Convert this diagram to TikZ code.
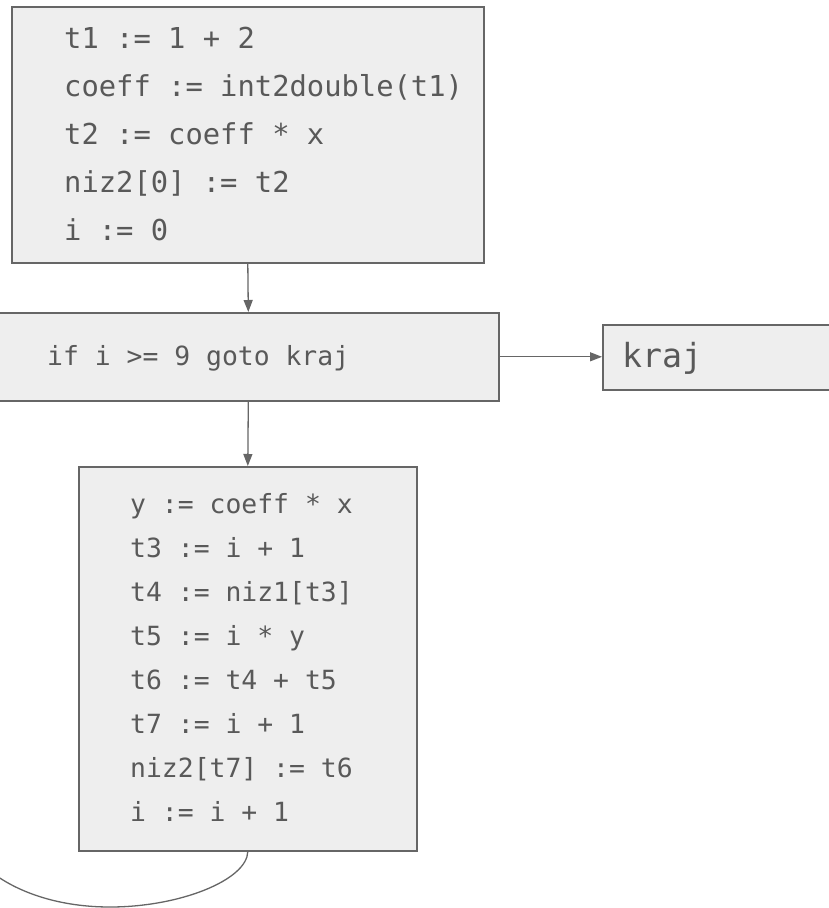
\documentclass[tikz,border=0pt]{standalone}
\usepackage{fontspec}
\usetikzlibrary{arrows.meta}
\newfontfamily\codefont{DejaVu Sans Mono}
\definecolor{boxfill}{HTML}{EEEEEE}
\definecolor{boxline}{HTML}{666666}
\definecolor{codetext}{HTML}{595959}
\begin{document}
\begin{tikzpicture}[x=1pt,y=-1pt,
  blk/.style={draw=boxline, fill=boxfill, line width=1.6pt, inner sep=0pt, anchor=north west},
  codeline/.style={text=codetext, inner sep=0pt, anchor=base west},
  big/.style={codeline, font=\codefont\fontsize{28.8}{30}\selectfont},
  mid/.style={codeline, font=\codefont\fontsize{26.4}{28}\selectfont},
  huge/.style={codeline, font=\codefont\fontsize{33.2}{35}\selectfont},
  conn/.style={draw=boxline, line width=1.3pt, -{Triangle[length=12pt,width=9pt]}},
  plainconn/.style={draw=boxline, line width=1.3pt}]
\useasboundingbox (0,0) rectangle (829,908);
\clip (0,0) rectangle (829,908);
% boxes
\node[blk, minimum width=472pt, minimum height=256pt] (b1) at (11,6) {};
\node[blk, minimum width=501pt, minimum height=88pt] (b2) at (-3,312) {};
\node[blk, minimum width=338pt, minimum height=384pt] (b3) at (78,466) {};
\node[blk, minimum width=240pt, minimum height=65pt] (bk) at (602,324) {};
% box 1 text
\foreach \t [count=\i from 0] in {t1 := 1 + 2,coeff := int2double(t1),t2 := coeff * x,niz2[0] := t2,i := 0}
  \node[big] (b1l\i) at (64,48+48*\i) {\t};
% box 2 text
\node[mid] (b2l) at (47,365) {if i >= 9 goto kraj};
% kraj text
\node[huge] (bkl) at (622,367) {kraj};
% box 3 text
\foreach \t [count=\i from 0] in {y := coeff * x,t3 := i + 1,t4 := niz1[t3],t5 := i * y,t6 := t4 + t5,t7 := i + 1,niz2[t7] := t6,i := i + 1}
  \node[mid] (b3l\i) at (130,513+44*\i) {\t};
% connectors
\draw[conn] (b1.south) -- (b2.north);
\draw[conn] (b2.south) -- (b3.north);
\draw[conn] (b2.east) -- (b2.east -| bk.west);
\coordinate (loopend) at (-6,874);
\draw[plainconn] (b3.south) .. controls (247,880) and (180,907) .. (110,907) .. controls (60,907) and (20,893) .. (loopend);
\end{tikzpicture}
\end{document}
